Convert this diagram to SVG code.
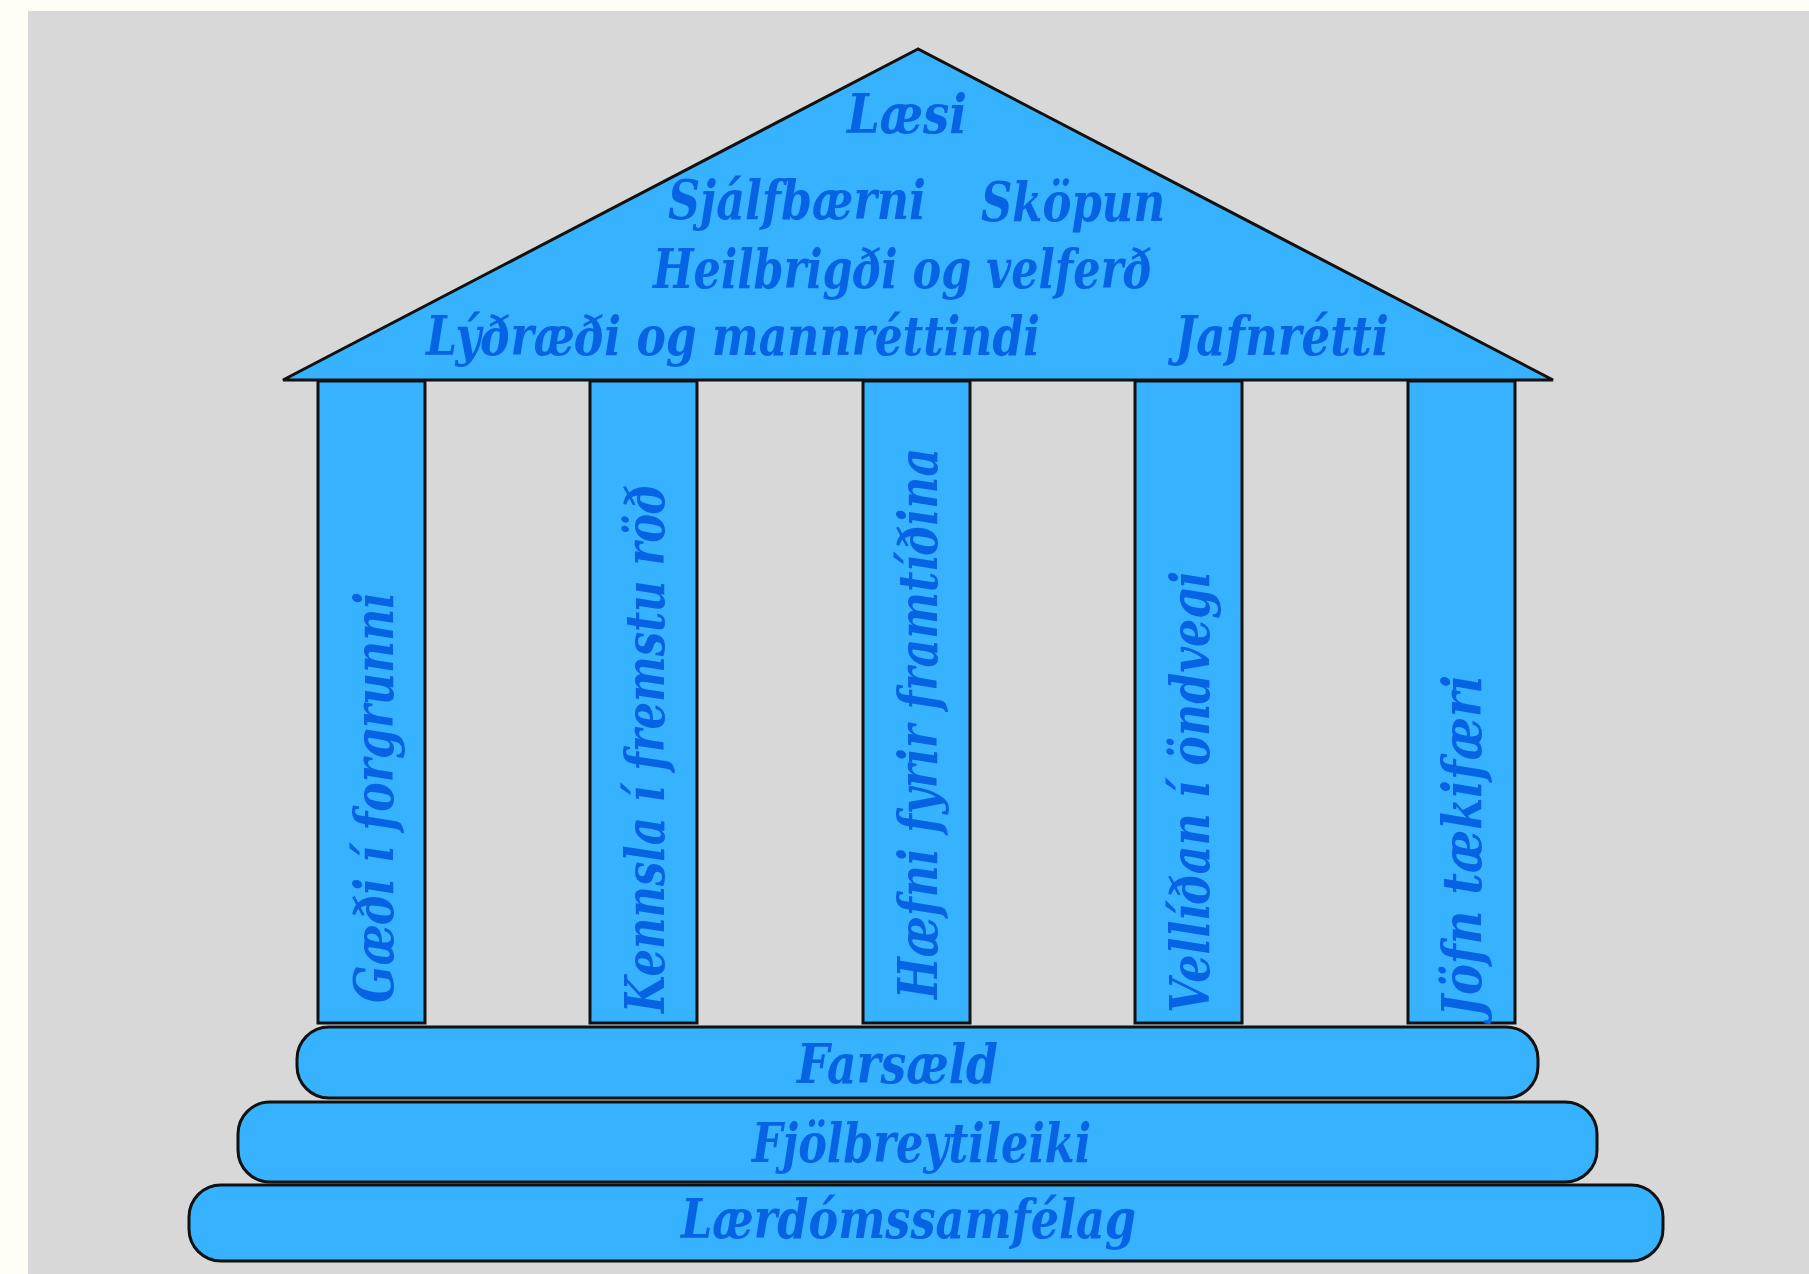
<svg xmlns="http://www.w3.org/2000/svg" width="1809" height="1274" viewBox="0 0 1809 1274">
<style>
.shape{fill:#36B2FF;stroke:#111;stroke-width:3}
.lbl{font-family:"DejaVu Serif","Liberation Serif",serif;font-weight:bold;font-style:italic;font-size:55px;fill:#0664E4}
</style>
<rect x="0" y="0" width="1809" height="1274" fill="#FEFEF4"/>
<rect x="28" y="11" width="1781" height="1263" fill="#D8D8D8"/>
<g id="connectors"/>
<g id="col1"><rect class="shape" x="318" y="381" width="107" height="642"/>
<text class="lbl" transform="translate(393,1003) rotate(-90)" textLength="411" lengthAdjust="spacingAndGlyphs">Gæði í forgrunni</text></g>
<g id="col2"><rect class="shape" x="590" y="381" width="107" height="642"/>
<text class="lbl" transform="translate(664,1013) rotate(-90)" textLength="528" lengthAdjust="spacingAndGlyphs">Kennsla í fremstu röð</text></g>
<g id="col3"><rect class="shape" x="863" y="381" width="107" height="642"/>
<text class="lbl" transform="translate(937,999) rotate(-90)" textLength="551" lengthAdjust="spacingAndGlyphs">Hæfni fyrir framtíðina</text></g>
<g id="col4"><rect class="shape" x="1135" y="381" width="107" height="642"/>
<text class="lbl" transform="translate(1209,1013) rotate(-90)" textLength="442" lengthAdjust="spacingAndGlyphs">Vellíðan í öndvegi</text></g>
<g id="col5"><rect class="shape" x="1408" y="381" width="107" height="642"/>
<text class="lbl" transform="translate(1481,1017) rotate(-90)" textLength="342" lengthAdjust="spacingAndGlyphs">Jöfn tækifæri</text></g>
<g id="roof"><polygon class="shape" points="918,49 283,380 1553,380"/>
<text class="lbl" x="847" y="133" textLength="120" lengthAdjust="spacingAndGlyphs">Læsi</text>
<text class="lbl" x="668" y="219" textLength="258" lengthAdjust="spacingAndGlyphs">Sjálfbærni</text>
<text class="lbl" x="981" y="221" textLength="184" lengthAdjust="spacingAndGlyphs">Sköpun</text>
<text class="lbl" x="653" y="288" textLength="499" lengthAdjust="spacingAndGlyphs">Heilbrigði og velferð</text>
<text class="lbl" x="426" y="355" textLength="614" lengthAdjust="spacingAndGlyphs">Lýðræði og mannréttindi</text>
<text class="lbl" x="1175" y="355" textLength="214" lengthAdjust="spacingAndGlyphs">Jafnrétti</text></g>
<g id="step1"><rect class="shape" x="297" y="1027" width="1241" height="71" rx="32" ry="32"/>
<text class="lbl" x="797" y="1083" textLength="201" lengthAdjust="spacingAndGlyphs">Farsæld</text></g>
<g id="step2"><rect class="shape" x="238" y="1102" width="1359" height="80" rx="32" ry="32"/>
<text class="lbl" x="752" y="1162" textLength="339" lengthAdjust="spacingAndGlyphs">Fjölbreytileiki</text></g>
<g id="step3"><rect class="shape" x="189" y="1185" width="1474" height="76" rx="32" ry="32"/>
<text class="lbl" x="681" y="1238" textLength="455" lengthAdjust="spacingAndGlyphs">Lærdómssamfélag</text></g>
</svg>
